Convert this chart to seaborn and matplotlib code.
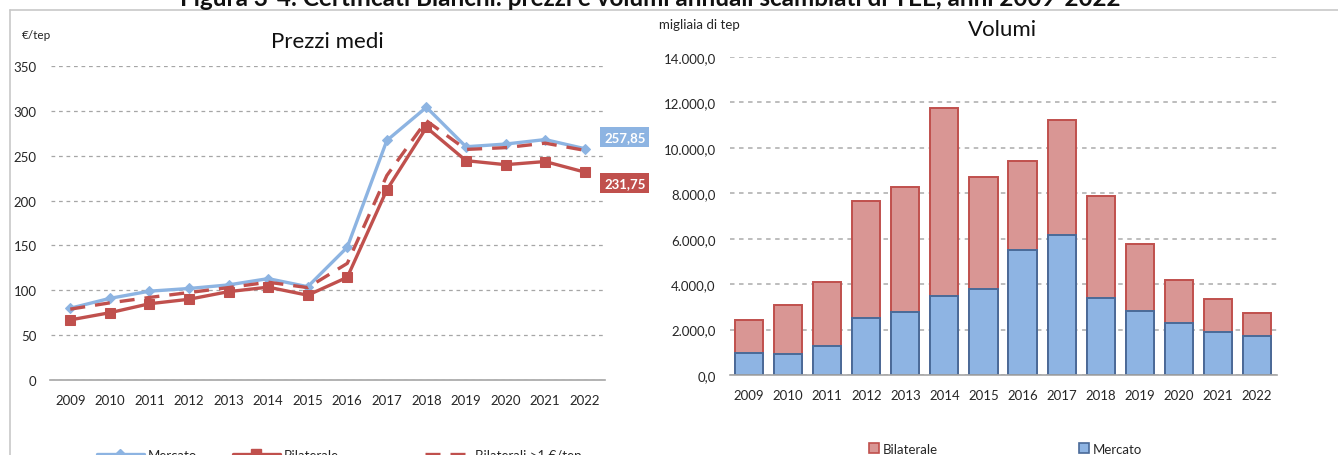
import matplotlib
matplotlib.use("Agg")
import matplotlib.pyplot as plt
from matplotlib.lines import Line2D
from matplotlib.patches import Patch
import seaborn as sns
import pandas as pd
import numpy as np

sns.set_theme(style="white")
plt.rcParams["font.family"] = ["Lato", "DejaVu Sans"]

# ---- data -------------------------------------------------------------
anni = ["2009", "2010", "2011", "2012", "2013", "2014", "2015",
        "2016", "2017", "2018", "2019", "2020", "2021", "2022"]

# average prices (€/tep)
prezzo_mercato = [80, 91, 99, 102, 106, 113, 104, 148, 267, 304, 260, 263, 268, 257.85]
prezzo_bilaterale = [67, 75, 85, 90, 98.5, 103.5, 94.5, 114.5, 212, 281.5, 244.5, 240, 243.5, 231.75]
prezzo_bilaterali_1 = [79, 86, 92, 97.5, 103, 109, 103, 130, 228, 289, 257, 259, 264, 256]

# traded volumes (thousand tep)
volume_mercato = [960, 940, 1270, 2530, 2790, 3460, 3780, 5520, 6180, 3370, 2820, 2300, 1900, 1710]
volume_bilaterale = [1450, 2130, 2840, 5120, 5470, 8300, 4950, 3880, 5060, 4520, 2930, 1900, 1440, 1000]

prezzi = pd.DataFrame({
    "anno": anni,
    "Mercato": prezzo_mercato,
    "Bilaterale": prezzo_bilaterale,
    "Bilaterali >1 €/tep": prezzo_bilaterali_1,
})
volumi = pd.DataFrame({
    "anno": anni,
    "Mercato": volume_mercato,
    "Bilaterale": volume_bilaterale,
})
volumi["Totale"] = volumi["Mercato"] + volumi["Bilaterale"]

# ---- colours ----------------------------------------------------------
BLU = "#8DB4E2"
ROSSO = "#C0504D"
BAR_BLU = "#8EB4E3"
BAR_BLU_EDGE = "#4A6A98"
BAR_ROSSO = "#D99694"
GRID = "#A6A6A6"
TXT = "#262626"

W, H = 1338, 456
fig = plt.figure(figsize=(W / 100, H / 100), dpi=100)

def fx(px):
    return px / W

def fy(py):
    return 1 - py / H

# frame around the figure block
fig.add_artist(Line2D([fx(10), 1.0], [fy(11), fy(11)], color="#C8C8C8", lw=1.2))
fig.add_artist(Line2D([fx(10), fx(10)], [fy(11), 0.0], color="#C8C8C8", lw=1.2))
fig.text(fx(650), fy(5.5), "Figura 3-4: Certificati Bianchi: prezzi e volumi annuali scambiati di TEE, anni 2009-2022",
         ha="center", va="baseline", fontsize=17.5, fontweight="bold", color="#111111")

# ---- left: prices -----------------------------------------------------
ax1 = fig.add_axes([fx(50.5), fy(381), fx(604.5 - 50.5), (381 - 67) / H])
sns.lineplot(data=prezzi, x="anno", y="Mercato", ax=ax1, color=BLU, lw=2.4,
             marker="D", markersize=5, markeredgecolor=BLU, sort=False)
sns.lineplot(data=prezzi, x="anno", y="Bilaterali >1 €/tep", ax=ax1, color=ROSSO, lw=2.4,
             sort=False)
ax1.lines[-1].set_dashes((4.5, 3.0))
sns.lineplot(data=prezzi, x="anno", y="Bilaterale", ax=ax1, color=ROSSO, lw=2.4,
             marker="s", markersize=7, markeredgecolor=ROSSO, sort=False)

ax1.set_ylim(0, 350)
ax1.set_xlim(-0.5, len(anni) - 0.5)
ax1.set_yticks(np.arange(0, 351, 50))
ax1.yaxis.grid(True, color=GRID, lw=0.9, linestyle=(0, (3, 3)))
ax1.set_axisbelow(True)
ax1.set_xlabel("")
ax1.set_ylabel("")

# value labels on the last point
n = len(anni) - 1
ax1.annotate(f"{prezzo_mercato[-1]:.2f}".replace(".", ","), xy=(n, prezzo_mercato[-1]),
             xytext=(40, 12), textcoords="offset pixels", ha="center", va="center",
             color="white", fontsize=9.5, fontweight="bold",
             bbox=dict(boxstyle="square,pad=0.3", fc=BLU, ec="none"), annotation_clip=False)
ax1.annotate(f"{prezzo_bilaterale[-1]:.2f}".replace(".", ","), xy=(n, prezzo_bilaterale[-1]),
             xytext=(40, -11), textcoords="offset pixels", ha="center", va="center",
             color="white", fontsize=9.5, fontweight="bold",
             bbox=dict(boxstyle="square,pad=0.3", fc=ROSSO, ec="none"), annotation_clip=False)

ax1.set_title("Prezzi medi", fontsize=16, color="#111111", pad=14)
ax1.text(-0.052, 1.1, "€/tep", transform=ax1.transAxes, fontsize=8.5, color=TXT,
         ha="left", va="center")

# ---- right: volumes ---------------------------------------------------
ax2 = fig.add_axes([fx(729.5), fy(376), fx(1276.5 - 729.5), (376 - 58) / H])
sns.barplot(data=volumi, x="anno", y="Totale", ax=ax2, color=BAR_ROSSO, saturation=1,
            width=0.72, edgecolor=ROSSO, linewidth=1.4)
sns.barplot(data=volumi, x="anno", y="Mercato", ax=ax2, color=BAR_BLU, saturation=1,
            width=0.72, edgecolor=BAR_BLU_EDGE, linewidth=1.4)
ax2.set_ylim(0, 14000)
ax2.set_xlim(-0.5, len(anni) - 0.5)
ax2.set_yticks(np.arange(0, 14001, 2000))
ax2.set_yticklabels([f"{v:,.1f}".replace(",", "X").replace(".", ",").replace("X", ".")
                     for v in np.arange(0, 14001, 2000)])
ax2.yaxis.grid(True, color="#B8B8B8", lw=1.3, linestyle=(0, (2.5, 2.5)))
ax2.set_axisbelow(True)
ax2.set_xlabel("")
ax2.set_ylabel("")
ax2.set_title("Volumi", fontsize=16, color="#111111", pad=16)
ax2.text(-0.128, 1.105, "migliaia di tep", transform=ax2.transAxes, fontsize=9.5,
         color=TXT, ha="left", va="center")

for ax in (ax1, ax2):
    for s in ("top", "right", "left"):
        ax.spines[s].set_visible(False)
    ax.spines["bottom"].set_color("#A6A6A6")
    ax.spines["bottom"].set_linewidth(1.2)
    ax.set_xticks(np.arange(len(anni)))
    ax.set_xticklabels(anni)
    ax.set_xticks(np.arange(-0.5, len(anni), 1), minor=True)
    ax.tick_params(axis="x", which="major", length=0, pad=10, labelsize=9.5, labelcolor=TXT)
    ax.tick_params(axis="x", which="minor", length=5, width=1.2, color="#A6A6A6", direction="out")
    ax.tick_params(axis="y", length=0, pad=10, labelsize=9.5, labelcolor=TXT)

# ---- legends ----------------------------------------------------------
leg_kw = dict(frameon=False, fontsize=9.5, handlelength=3.6, handletextpad=0.25,
              borderpad=0, labelcolor=TXT)
fig.legend(handles=[Line2D([], [], color=BLU, lw=2.4, marker="D", markersize=5)],
           labels=["Mercato"], loc="center left", bbox_to_anchor=(fx(90), fy(456)), **leg_kw)
fig.legend(handles=[Line2D([], [], color=ROSSO, lw=2.4, marker="s", markersize=7)],
           labels=["Bilaterale"], loc="center left", bbox_to_anchor=(fx(226), fy(456)), **leg_kw)
fig.legend(handles=[Line2D([], [], color=ROSSO, lw=2.4, dashes=(4.5, 3.0))],
           labels=["Bilaterali >1 €/tep"], loc="center left", bbox_to_anchor=(fx(418), fy(456)),
           **leg_kw)

patch_kw = dict(frameon=False, fontsize=9.5, handlelength=0.8, handleheight=0.8,
                handletextpad=0.3, borderpad=0, labelcolor=TXT)
fig.legend(handles=[Patch(fc=BAR_ROSSO, ec=ROSSO, lw=1.2)], labels=["Bilaterale"],
           loc="center left", bbox_to_anchor=(fx(862), fy(450)), **patch_kw)
fig.legend(handles=[Patch(fc=BAR_BLU, ec=BAR_BLU_EDGE, lw=1.2)], labels=["Mercato"],
           loc="center left", bbox_to_anchor=(fx(1072), fy(450)), **patch_kw)

fig.savefig("out.png", dpi=100)
